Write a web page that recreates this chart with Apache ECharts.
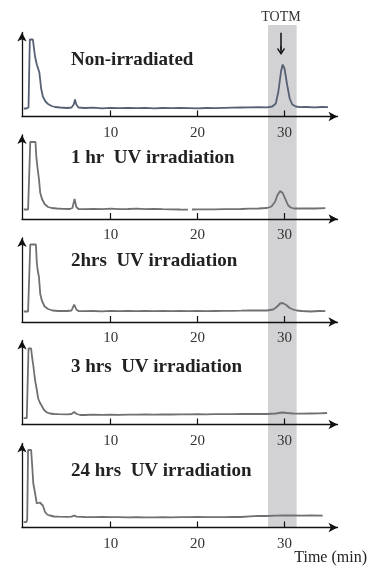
<!DOCTYPE html>
<html>
<head>
<meta charset="utf-8">
<script src="https://cdn.jsdelivr.net/npm/echarts@6/dist/echarts.min.js"></script>
<style>html,body{margin:0;padding:0;background:#fff}#c{width:367px;height:567px}</style>
</head>
<body>
<div id="c"></div>
<script>
// ---- data (retention time in min, detector signal in arbitrary units) ----
const panelTitles = ['Non-irradiated', '1 hr  UV irradiation', '2hrs  UV irradiation', '3 hrs  UV irradiation', '24 hrs  UV irradiation'];
const xTicks = [10, 20, 30];
const totmBand = [28.1, 31.4];
const totmArrowX = 29.6;

const t0 = [0,0.3,0.55,0.7,0.8,1.05,1.15,1.3,1.5,1.65,1.8,2.0,2.2,2.5,2.8,3.2,3.6,4.2,5.0,5.5,5.75,5.9,6.05,6.3,7,8,9,10,11,12,13,14,15,16,17,18,19,20,21,22,23,24,25,26,27,28,28.6,29.0,29.3,29.6,29.8,30.0,30.3,30.6,30.9,31.3,31.8,32.5,33.5,34.3,35.0];
const s0 = [8,8,9,77,76.5,77,70,60,52,50,44,28,20,15,12.5,10.5,9.5,9,8.5,9,12,17,12,9,8.5,8.8,8.2,8.6,8.3,8.7,8.4,8.6,8.2,8.5,8.3,8.6,8.4,8.2,8.5,8.3,8.6,8.8,9.0,9.2,9.3,9.2,10,13,25,45,52,48,32,18,12,10,9.3,9.5,9.2,9.5,9.4];

const t1 = [0,0.5,0.65,0.75,1.0,1.35,1.45,1.6,1.75,1.9,2.1,2.4,2.8,3.2,3.8,4.5,5.3,5.6,5.85,6.05,6.3,7,8,9,10,11,12,13,14,15,16,17,18,18.9,19.1,19.35,20,21,22,23,24,25,26,27,28,28.5,28.9,29.2,29.5,29.8,30.1,30.4,30.7,31.1,31.6,32.5,33.5,34.7];
const s1 = [9.5,9.5,10,77,77,77,62,50,40,26,20,15,12,11,10.5,10.2,10,11,20,12,10,9.8,10.2,9.8,10.3,9.9,10,10.3,9.9,10,9.8,9.7,9.5,9.4,null,9.5,9.6,9.7,9.6,9.8,9.9,10,10.3,10.5,11,12.5,17,24,28,26,20,14,11.5,10.5,10.5,10.7,10.5,10.8];

const t2 = [0,0.5,0.65,0.75,1.0,1.4,1.5,1.6,1.75,1.9,2.1,2.4,2.8,3.3,4,5,5.5,5.8,6.05,6.3,7,8,9,10,11,12,13,14,15,16,17,18,19,20,21,22,23,24,25,26,27,28,28.7,29.1,29.5,29.8,30.2,30.6,31.0,31.4,32,33,34,34.7];
const s2 = [10.5,10.5,12,77.5,77.5,77.5,60,52,45,28,21,15.5,13,11.5,11,11,11.5,17.5,12.5,11,10.8,11,10.7,11.1,10.9,11,10.8,11.1,10.9,11,10.8,11,10.9,11.1,10.8,11,11.1,11.2,11.3,11.5,11.6,11.5,12.5,15,18.5,19,17,14,12.5,11.5,11,10.5,11,10.8];

const t3 = [0,0.35,0.45,0.55,0.85,0.95,1.1,1.25,1.35,1.5,1.66,1.85,2.05,2.3,2.6,3.0,3.5,4,5,5.5,5.8,6.1,6.5,7,8,9,10,11,12,13,14,15,16,17,18,19,20,21,22,23,24,25,26,27,28,29,29.7,30.3,31,32,33,34,34.9];
const s3 = [6.3,6.3,8,76,76,68,59,48,42,35,26,22,19,15,12.3,11,10.5,10.3,10.2,10.5,12.5,10.5,9.5,9.5,9.8,9.6,9.8,9.7,9.9,9.8,10,9.9,10.1,10,10.2,10.1,10.3,10.2,10.3,10.4,10.3,10.5,10.6,10.5,10.5,11,12,11.5,11,10.8,11,11.2,11.5];

const t4 = [0,0.3,0.4,0.5,0.85,0.95,1.1,1.2,1.35,1.5,1.7,1.85,2.0,2.2,2.45,2.7,3.0,3.5,4,5,5.5,5.8,6.1,7,8,9,10,11,12,13,14,15,16,17,18,19,20,21,22,23,24,25,26,27,28,29,30,31,32,33,34.4];
const s4 = [5.4,5.4,8,77.5,77.5,65,44,42,32,24,22,25,25.5,22,15.5,13,12,11,10.8,10.6,10.8,11.8,10.8,10.5,10.4,10.5,10.3,10.4,10.2,10.3,10.1,10.2,10.3,10.2,10.4,10.3,10.5,10.4,10.3,10.4,10.5,10.5,11.2,11.6,11.5,11.8,12,12.2,11.8,12,11.8];

const times = [t0, t1, t2, t3, t4];
const signals = [s0, s1, s2, s3, s4];

// ---- layout / style ----
const xMin = -0.2, xMax = 36.1;
const gridLeft = 22, gridRight = 29.5;
const gridTops = [32.5, 135, 238, 340.5, 443.5];
const gridH = 84;
const titleCenters = [61, 159, 262, 368, 472];
const traceColors = ['#566075', '#707074', '#707074', '#707074', '#707074'];
const axisColor = '#111';
const serif = '"Liberation Serif", "DejaVu Serif", serif';
const chevron = 'path://M0,6 L4,0 L8,6 L7,7 L4.6,3.4 L4.6,9 L3.4,9 L3.4,3.4 L1,7 Z';

const grid = [], xAxis = [], yAxis = [], series = [], title = [];
for (let i = 0; i < 5; i++) {
  grid.push({left: gridLeft, right: gridRight, top: gridTops[i], height: gridH});
  xAxis.push({
    gridIndex: i, type: 'value', min: xMin, max: xMax,
    axisLine: {onZero: false, symbol: ['none', 'arrow'], symbolSize: [7, 9], lineStyle: {color: axisColor, width: 1.3}},
    axisTick: {inside: true, length: 6, customValues: xTicks, lineStyle: {color: axisColor, width: 1.2}},
    axisLabel: {customValues: xTicks, margin: 9, fontFamily: serif, fontSize: 15, color: '#333'},
    splitLine: {show: false}
  });
  yAxis.push({
    gridIndex: i, type: 'value', min: 0, max: gridH,
    axisLine: {show: true, onZero: false, symbol: ['none', 'arrow'], symbolSize: [7, 9], lineStyle: {color: axisColor, width: 1.3}},
    axisTick: {show: false}, axisLabel: {show: false}, splitLine: {show: false}
  });
  const s = {
    type: 'line', xAxisIndex: i, yAxisIndex: i, z: 2,
    data: times[i].map((t, k) => [t, signals[i][k]]),
    showSymbol: false, symbol: 'none', connectNulls: false,
    lineStyle: {color: traceColors[i], width: 1.8}
  };
  if (i === 0) {
    s.markLine = {
      silent: true, symbol: ['none', chevron], symbolSize: [8, 9],
      lineStyle: {color: '#111', width: 1.5, type: 'solid'},
      label: {show: true, position: 'start', formatter: 'TOTM', fontFamily: serif, fontSize: 14, color: '#333', distance: 8},
      data: [[{coord: [totmArrowX, 83.8]}, {coord: [totmArrowX, 66]}]]
    };
  }
  series.push(s);
  title.push({
    text: panelTitles[i], left: 71, top: titleCenters[i] - 10, padding: 0,
    textStyle: {fontFamily: serif, fontWeight: 'bold', fontSize: 19, color: '#222'}
  });
}
// overlay grid for the shaded TOTM retention window
grid.push({left: gridLeft, right: gridRight, top: 25, height: 503});
xAxis.push({gridIndex: 5, type: 'value', min: xMin, max: xMax, show: false});
yAxis.push({gridIndex: 5, type: 'value', min: 0, max: 1, show: false});
series.push({
  type: 'line', xAxisIndex: 5, yAxisIndex: 5, data: [], z: -1, silent: true,
  markArea: {silent: true, z: -1, itemStyle: {color: '#d2d2d4'}, data: [[{xAxis: totmBand[0]}, {xAxis: totmBand[1]}]]}
});
title.push({text: 'Time (min)', right: 0, top: 550, padding: 0,
  textStyle: {fontFamily: serif, fontWeight: 'normal', fontSize: 16, color: '#222'}});

const chart = echarts.init(document.getElementById('c'), null, {renderer: 'canvas'});
chart.setOption({animation: false, backgroundColor: '#fff', title, grid, xAxis, yAxis, series});
</script>
</body>
</html>
